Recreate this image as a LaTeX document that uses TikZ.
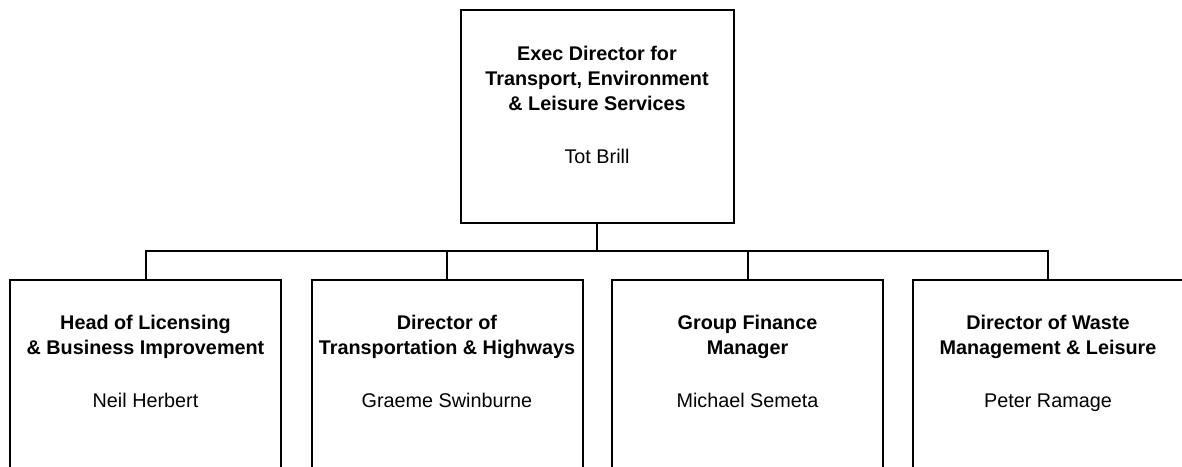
\documentclass[tikz,border=0pt]{standalone}
\usepackage{fontspec}
\setmainfont{Liberation Sans}
\tikzset{
  orgbox/.style={draw=black, line width=2pt, minimum width=271pt, minimum height=213pt, inner sep=0pt, fill=white},
  orgtext/.style={align=center, inner sep=0pt, font=\fontsize{19.8}{25}\selectfont, anchor=north},
  link/.style={draw=black, line width=2pt}
}
\begin{document}
\begin{tikzpicture}[x=1pt,y=-1pt]
\useasboundingbox (0,0) rectangle (1182,466);
\clip (0,0) rectangle (1182,466);
\node[orgbox, minimum width=273pt] (top) at (597,116.5) {};
\node[orgbox] (b1) at (145.5,386.5) {};
\node[orgbox] (b2) at (447,386.5) {};
\node[orgbox] (b3) at (747.5,386.5) {};
\node[orgbox] (b4) at (1048,386.5) {};
\coordinate (bus) at (597,251);
\node[orgtext] (t0) at ([yshift=-37pt]top.north) {\textbf{Exec Director for}\\\textbf{Transport, Environment}\\\textbf{\& Leisure Services}\\[28pt]Tot Brill};
\node[orgtext] (t1) at ([yshift=-36pt]b1.north) {\textbf{Head of Licensing}\\\textbf{\& Business Improvement}\\[28pt]Neil Herbert};
\node[orgtext] (t2) at ([yshift=-36pt]b2.north) {\textbf{Director of}\\\textbf{Transportation \& Highways}\\[28pt]Graeme Swinburne};
\node[orgtext] (t3) at ([yshift=-36pt]b3.north) {\textbf{Group Finance}\\\textbf{Manager}\\[28pt]Michael Semeta};
\node[orgtext] (t4) at ([yshift=-36pt]b4.north) {\textbf{Director of Waste}\\\textbf{Management \& Leisure}\\[28pt]Peter Ramage};
\draw[link] (top.south) -- (top.south |- bus);
\draw[link, line join=miter] (b1.north) -- (b1.north |- bus) -- (b4.north |- bus) -- (b4.north);
\draw[link] (b2.north) -- (b2.north |- bus);
\draw[link] (b3.north) -- (b3.north |- bus);
\end{tikzpicture}
\end{document}
